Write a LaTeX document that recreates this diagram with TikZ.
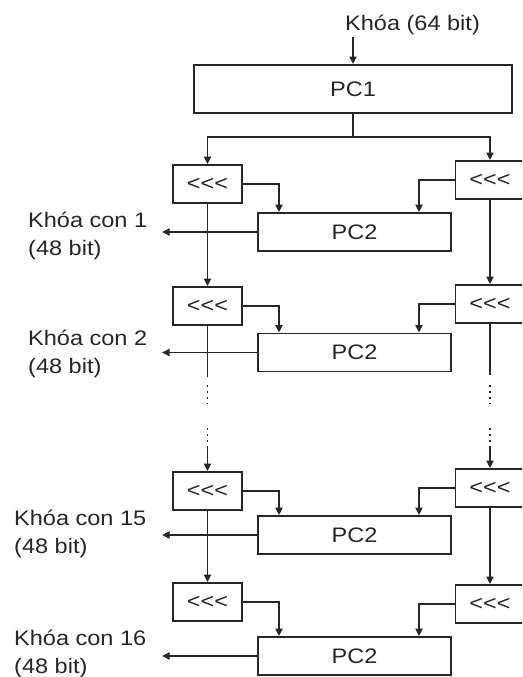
\documentclass[tikz,border=0pt]{standalone}
\usepackage{fontspec}
\setmainfont{Liberation Sans}[FakeStretch=1.12]
\usetikzlibrary{arrows.meta}
\definecolor{ink}{HTML}{262626}
\newcommand{\shl}{<\kern0pt<\kern0pt<}
\tikzset{
  line/.style={draw=ink, line width=1.8pt},
  arr/.style={line, -{Triangle[length=7.5pt,width=7pt]}},
  dotline/.style={draw=ink, line width=1.8pt, dash pattern=on 2pt off 4pt},
  box/.style={draw=ink, line width=1.8pt, inner sep=0pt, text=ink,
    font=\fontsize{21}{28}\selectfont},
  shiftbox/.style={box, minimum width=69pt, minimum height=38pt},
  pctwo/.style={box, minimum width=193pt, minimum height=38pt},
  lbl/.style={inner sep=0pt, anchor=base west, text=ink,
    font=\fontsize{21}{28}\selectfont}
}
\begin{document}
\begin{tikzpicture}[x=1pt,y=-1pt]
\path[use as bounding box, clip] (0,0) rectangle (522,677);
\fill[white] (0,0) rectangle (522,677);

% key and PC1
\node[lbl] (key) at (345,31) {Khóa (64 bit)};
\node[box, minimum width=318pt, minimum height=48pt] (pc1) at (353,89) {PC1};
\coordinate (kin) at (353,37);
\draw[arr] (kin) -- (pc1.north);

% shift boxes
\node[shiftbox] (L1) at (207.5,184) {\shl};
\node[shiftbox] (L2) at (207.5,306) {\shl};
\node[shiftbox] (L3) at (207.5,491) {\shl};
\node[shiftbox] (L4) at (207.5,602) {\shl};
\node[shiftbox] (R1) at (490,180) {\shl};
\node[shiftbox] (R2) at (490,304) {\shl};
\node[shiftbox] (R3) at (490,488) {\shl};
\node[shiftbox] (R4) at (490,604) {\shl};

% PC2 boxes
\node[pctwo] (P1) at (354.5,232) {PC2};
\node[pctwo] (P2) at (354.5,352.5) {PC2};
\node[pctwo] (P3) at (354.5,535) {PC2};
\node[pctwo] (P4) at (354.5,656) {PC2};

% split from PC1
\coordinate (split) at (353,137);
\draw[arr] (pc1.south) -- (split) -| (L1.north);
\draw[arr] (split) -| (R1.north);

% shift -> PC2
\foreach \i in {1,2,3,4}{
  \draw[arr] (L\i.east) -| ([xshift=-75.5pt]P\i.north);
  \draw[arr] (R\i.west) -| ([xshift=64.5pt]P\i.north);
}

% verticals
\draw[arr] (L1.south) -- (L2.north);
\draw[arr] (R1.south) -- (R2.north);
\draw[arr] (L3.south) -- (L4.north);
\draw[arr] (R3.south) -- (R4.north);

% broken verticals with dots
\coordinate (la) at (207.5,377);
\coordinate (lb) at (207.5,385);
\coordinate (lc) at (207.5,404);
\coordinate (ld) at (207.5,428);
\coordinate (le) at (207.5,446);
\draw[line] (L2.south) -- (la);
\draw[dotline] (lb) -- (lc);
\draw[dotline] (ld) -- (le);
\draw[arr] (le) -- (L3.north);

\coordinate (ra) at (490,375);
\coordinate (rb) at (490,385);
\coordinate (rc) at (490,404);
\coordinate (rd) at (490,428);
\coordinate (re) at (490,446);
\draw[line] (R2.south) -- (ra);
\draw[dotline] (rb) -- (rc);
\draw[dotline] (rd) -- (re);
\draw[arr] (re) -- (R3.north);

% outputs
\coordinate (outx) at (162,0);
\foreach \i in {1,2,3,4}{
  \draw[arr] (P\i.west) -- (P\i.west -| outx);
}

% labels
\node[lbl] (k1) at (28,227) {Khóa con 1};
\node[lbl] (b1) at (28,255) {(48 bit)};
\node[lbl] (k2) at (28,345) {Khóa con 2};
\node[lbl] (b2) at (28,373) {(48 bit)};
\node[lbl] (k15) at (14,525) {Khóa con 15};
\node[lbl] (b15) at (14,553) {(48 bit)};
\node[lbl] (k16) at (14,645) {Khóa con 16};
\node[lbl] (b16) at (14,673) {(48 bit)};
\end{tikzpicture}
\end{document}
